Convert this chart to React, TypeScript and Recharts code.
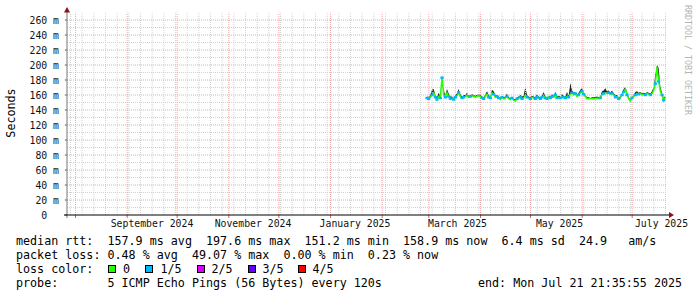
import { ComposedChart, Line, Area, XAxis, YAxis, ReferenceLine, ReferenceDot } from "recharts"

// x is days since the graph start (Jul 26 2024 21:35), 360 days total
const firstDay = 216

const median = [
  156, 155, 157, 160, 163, 157, 154, 158, 156, 183,
  160, 157, 163, 158, 155, 156, 154, 157, 159, 163,
  158, 156, 157, 158, 159, 157, 158, 159, 158, 157,
  158, 159, 158, 156, 155, 158, 161, 157, 156, 163,
  161, 157, 158, 156, 154, 157, 155, 156, 158, 155,
  154, 156, 153, 152, 155, 156, 157, 155, 156, 160,
  157, 156, 155, 157, 156, 155, 157, 156, 155, 157,
  159, 156, 155, 157, 156, 158, 157, 160, 156, 157,
  156, 158, 157, 156, 158, 157, 161, 163, 160, 162,
  158, 160, 163, 165, 161, 158, 155, 155, 155, 155,
  155, 155, 156, 155, 156, 160, 162, 163, 162, 163,
  161, 162, 160, 157, 158, 155, 156, 160, 164, 168,
  160, 155, 152, 156, 158, 160, 162, 161, 162, 160,
  161, 160, 162, 161, 160, 162, 166, 175, 197.6, 178, 165, 160, 153, 157,
]

const smokeTop = [
  158, 157, 160, 167, 168, 160, 157, 163, 159, 187,
  167, 160, 168, 162, 158, 158, 156, 160, 162, 168,
  161, 158, 160, 160, 163, 159, 160, 161, 160, 159,
  160, 161, 160, 158, 157, 161, 165, 160, 158, 167,
  165, 160, 160, 158, 156, 159, 157, 158, 162, 157,
  156, 158, 155, 154, 157, 158, 160, 158, 159, 171,
  160, 158, 157, 159, 158, 157, 161, 158, 157, 159,
  164, 158, 157, 159, 158, 161, 159, 164, 158, 159,
  158, 161, 159, 158, 164, 159, 176, 167, 163, 164,
  160, 163, 167, 169, 163, 160, 157, 157, 156, 157,
  157, 157, 158, 157, 158, 165, 166, 169, 165, 166,
  163, 166, 162, 160, 160, 157, 158, 162, 168, 171,
  164, 157, 154, 158, 160, 164, 165, 163, 164, 162,
  163, 162, 164, 163, 162, 165, 171, 187, 200, 196, 171, 163, 156, 159,
]

// lost pings out of 5
const loss = [
  1, 1, 0, 1, 0, 1, 1, 0, 1, 1,
  0, 1, 0, 1, 1, 0, 1, 1, 0, 1,
  0, 1, 1, 0, 0, 0, 1, 0, 0, 0,
  0, 0, 0, 1, 1, 0, 0, 1, 1, 0,
  1, 0, 1, 1, 0, 1, 0, 0, 1, 0,
  0, 1, 0, 0, 1, 0, 1, 1, 0, 0,
  1, 0, 1, 0, 0, 1, 1, 0, 1, 1,
  0, 1, 1, 0, 1, 1, 0, 1, 1, 0,
  1, 0, 1, 1, 0, 1, 0, 1, 0, 1,
  0, 1, 0, 1, 1, 0, 0, 0, 0, 0,
  0, 0, 0, 0, 1, 0, 1, 0, 0, 1,
  0, 1, 0, 1, 0, 1, 0, 1, 1, 0,
  1, 0, 0, 1, 0, 1, 0, 1, 0, 0,
  0, 1, 0, 0, 1, 0, 0, 1, 0, 1, 0, 1, 1, 0,
]

const yTicks = [0, 20, 40, 60, 80, 100, 120, 140, 160, 180, 200, 220, 240, 260]
const yMinor = [10, 30, 50, 70, 90, 110, 130, 150, 170, 190, 210, 230, 250]
const monthStarts = [5.1, 36.1, 66.1, 97.1, 127.1, 158.1, 189.1, 217.1, 248.1, 278.1, 309.1, 339.1]
const labelDays = [51, 111.6, 172.8, 234.3, 295.5, 356.7]
const labelNames = ["September 2024", "November 2024", "January 2025", "March 2025", "May 2025", "July 2025"]
// mondays 00:00
const weekLines = Array.from({ length: 52 }, (_, i) => 2.1 + i * 7)

const lossColors = ["#26ff00", "#00b8ff", "#dd00ff", "#6200ff", "#ff0000"]
const lossNames = ["0", "1/5", "2/5", "3/5", "4/5"]

const data = median.map((m, i) => ({
  day: firstDay + i,
  median: m,
  smoke: [m, smokeTop[i]],
  loss: loss[i],
}))

const mono = "'DejaVu Sans Mono', monospace"
const minorGrid = "#d2d2d2"
const majorGrid = "#eeaaaa"

const YTick = (props: any) => {
  const { x, y, payload } = props
  const label = payload.value === 0 ? "0  " : `${payload.value} m`
  return (
    <text x={x} y={y} textAnchor="end" dominantBaseline="central" xmlSpace="preserve"
      style={{ whiteSpace: "pre" }} fontFamily={mono} fontSize={9.8} fill="#111">
      {label}
    </text>
  )
}

const XTick = (props: any) => {
  const { x, y, index } = props
  return (
    <text x={x} y={y} dy="0.71em" textAnchor="middle" fontFamily={mono} fontSize={9.8} fill="#111">
      {labelNames[index]}
    </text>
  )
}

// pieces of the median drawn in the loss colour
const LossDot = (props: any) => {
  const { cx, cy, payload, index } = props
  if (cx == null || cy == null || !payload.loss) return <g key={index} />
  return <rect key={index} x={cx - 1.6} y={cy - 1.2} width={3.2} height={2.4} fill={lossColors[payload.loss]} />
}

const legendText: React.CSSProperties = {
  position: "absolute",
  fontFamily: mono,
  fontSize: 11.7,
  lineHeight: "14px",
  whiteSpace: "pre",
  color: "#000",
}

export default function App() {
  return (
    <div style={{ position: "absolute", left: 0, top: 0, width: 697, height: 297, background: "#fff", overflow: "hidden" }}>
      <ComposedChart width={697} height={297} data={data} margin={{ top: 12.5, right: 30, left: 17, bottom: 52 }}>
        <XAxis dataKey="day" type="number" domain={[0, 360]} ticks={labelDays} interval={0}
          tick={<XTick />} tickLine={false} axisLine={false} tickSize={0} tickMargin={5.5} height={30} allowDataOverflow />
        <YAxis type="number" domain={[0, 270]} ticks={yTicks} interval={0} tick={<YTick />}
          tickLine={false} axisLine={false} tickSize={0} tickMargin={8} width={50} allowDataOverflow />

        {yMinor.map((v) => (
          <ReferenceLine key={"hm" + v} y={v} stroke={minorGrid} strokeDasharray="1 1" />
        ))}
        {weekLines.map((d) => (
          <ReferenceLine key={"vm" + d} x={d} stroke={minorGrid} strokeDasharray="1 1" />
        ))}
        {yTicks.slice(1).map((v) => (
          <ReferenceLine key={"hM" + v} y={v} stroke={majorGrid} strokeDasharray="1 1" />
        ))}
        {monthStarts.map((d) => (
          <ReferenceLine key={"vM" + d} x={d} stroke={majorGrid} strokeDasharray="1 1" />
        ))}

        <Area dataKey="smoke" type="linear" stroke="none" fill="#262626" fillOpacity={1}
          isAnimationActive={false} activeDot={false} />
        <Line dataKey="median" type="linear" stroke={lossColors[0]} strokeWidth={1.5} dot={<LossDot />}
          activeDot={false} isAnimationActive={false} />

        {/* axis tick marks */}
        {yTicks.map((v) => (
          <ReferenceLine key={"yt" + v} segment={[{ x: -1.3, y: v }, { x: 0, y: v }]} stroke="#666" ifOverflow="visible" />
        ))}
        {monthStarts.map((d) => (
          <ReferenceLine key={"xt" + d} segment={[{ x: d, y: 0 }, { x: d, y: -4 }]} stroke="#c66" ifOverflow="visible" />
        ))}
        <ReferenceLine segment={[{ x: 0, y: -4 }, { x: 0, y: 270.5 }]} stroke="#777" ifOverflow="visible" />
        <ReferenceLine segment={[{ x: -1.8, y: 0 }, { x: 361.2, y: 0 }]} stroke="#000" ifOverflow="visible" />
        <ReferenceDot x={0} y={270} ifOverflow="visible" r={3}
          shape={(p: any) => <polygon points={`${p.cx - 3},${p.cy} ${p.cx + 3},${p.cy} ${p.cx},${p.cy - 5.5}`} fill="#8b1010" />} />
        <ReferenceDot x={361.2} y={0} ifOverflow="visible" r={3}
          shape={(p: any) => <polygon points={`${p.cx},${p.cy - 3} ${p.cx},${p.cy + 3} ${p.cx + 5},${p.cy}`} fill="#8b1010" />} />
      </ComposedChart>

      <div style={{ ...legendText, left: 11, top: 113, transform: "translate(-50%, -50%) rotate(-90deg)" }}>Seconds</div>
      <div style={{ ...legendText, fontSize: 8.3, lineHeight: "10px", color: "#b4b4b4", left: 687.5, top: 60, transform: "translate(-50%, -50%) rotate(90deg)" }}>
        RRDTOOL / TOBI OETIKER
      </div>

      <div style={{ ...legendText, left: 16, top: 234 }}>
        {"median rtt:  157.9 ms avg  197.6 ms max  151.2 ms min  158.9 ms now  6.4 ms sd  24.9   am/s"}
      </div>
      <div style={{ ...legendText, left: 16, top: 248 }}>
        {"packet loss: 0.48 % avg  49.07 % max  0.00 % min  0.23 % now"}
      </div>
      <div style={{ ...legendText, left: 16, top: 262 }}>{"loss color:"}</div>
      {lossNames.map((n, i) => (
        <div key={n}>
          <div style={{ position: "absolute", left: [108, 145, 196.5, 247.5, 297.5][i], top: 265, width: 8, height: 8,
            boxSizing: "border-box", border: "1px solid #000", background: lossColors[i] }} />
          <div style={{ ...legendText, left: [123, 160.5, 211.5, 262.5, 312.5][i], top: 262 }}>{n}</div>
        </div>
      ))}
      <div style={{ ...legendText, left: 16, top: 276 }}>
        {"probe:       5 ICMP Echo Pings (56 Bytes) every 120s"}
      </div>
      <div style={{ ...legendText, left: 478, top: 276 }}>{"end: Mon Jul 21 21:35:55 2025"}</div>
    </div>
  )
}
